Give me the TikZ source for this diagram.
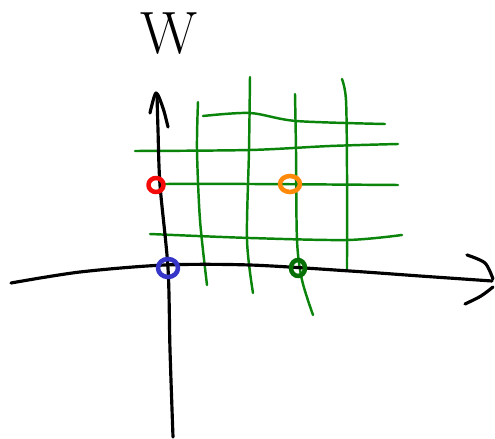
\documentclass[tikz,border=0pt]{standalone}
\usetikzlibrary{shapes.geometric}
\definecolor{SketchGreen}{HTML}{0A840A}
\definecolor{SketchDarkGreen}{HTML}{067006}
\definecolor{SketchRed}{HTML}{F50A0A}
\definecolor{SketchOrange}{HTML}{FF8A0A}
\definecolor{SketchBlue}{HTML}{3636C8}

\begin{document}
\begin{tikzpicture}[x=0.02cm,y=-0.02cm,line cap=round,line join=round,
  axisline/.style={black,line width=1.8pt},
  gridline/.style={SketchGreen,line width=1.4pt},
  dot/.style={ellipse,draw,line width=2.6pt,inner sep=0pt}]
\useasboundingbox (0,0) rectangle (495,439);
% label of the vertical axis
\node (wlabel) at (169,34) {\fontsize{34}{40}\selectfont W};
% green grid, rows
\draw[gridline] plot[smooth] coordinates {(203,116) (250,113) (296,121) (385,124)};
\draw[gridline] plot[smooth] coordinates {(135,151) (250,150) (330,146) (398,144)};
\draw[gridline] plot[smooth] coordinates {(160,184) (250,184) (398,185)};
\draw[gridline] plot[smooth] coordinates {(150,234) (250,238) (347,240) (402,235)};
% green grid, columns
\draw[gridline] plot[smooth] coordinates {(198,102) (197,150) (200,220) (207,285)};
\draw[gridline] plot[smooth] coordinates {(250,77) (249,150) (247,240) (253,293)};
\draw[gridline] plot[smooth] coordinates {(295,94) (296,150) (297,240) (302,280) (313,315)};
\draw[gridline] plot[smooth] coordinates {(342,79) (346,100) (347,170) (347,270)};
% axes
\draw[axisline] plot[smooth] coordinates {(11,283) (80,272) (165,265) (250,265) (350,271) (420,276) (492,281)};
\draw[axisline] plot[smooth] coordinates {(467,255) (485,263) (493,279)};
\draw[axisline] plot[smooth] coordinates {(493,287) (481,296) (465,304)};
\draw[axisline] plot[smooth] coordinates {(173,437) (170,350) (168,268) (160,185) (158,130) (157,95)};
\draw[axisline] plot[smooth] coordinates {(150,113) (156,93) (163,108) (168,127)};
% marked points
\node[dot,SketchRed,minimum width=0.3cm,minimum height=0.28cm] (red) at (156,185) {};
\node[dot,SketchOrange,minimum width=0.4cm,minimum height=0.32cm] (orange) at (290,184) {};
\node[dot,SketchBlue,minimum width=0.4cm,minimum height=0.36cm] (blue) at (168,268) {};
\node[dot,SketchDarkGreen,minimum width=0.28cm,minimum height=0.32cm] (green) at (298,268) {};
\end{tikzpicture}
\end{document}
